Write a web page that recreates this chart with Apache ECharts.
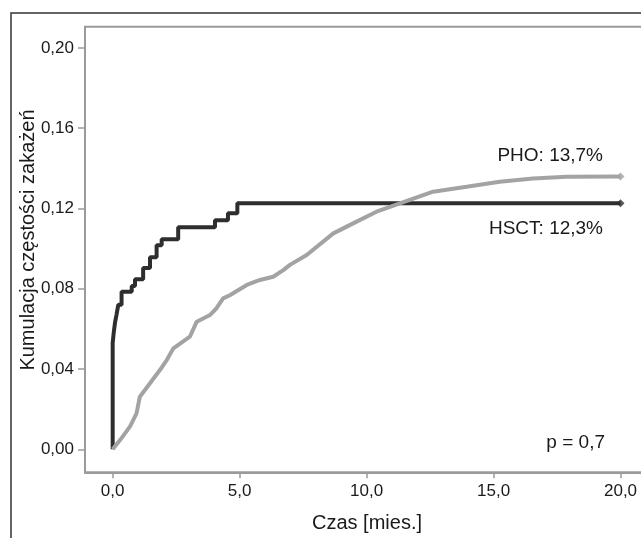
<!DOCTYPE html>
<html>
<head>
<meta charset="utf-8">
<script src="https://cdn.jsdelivr.net/npm/echarts@6/dist/echarts.min.js"></script>
<style>
html,body{margin:0;padding:0;background:#fff;}
#chart{width:641px;height:538px;}
</style>
</head>
<body>
<div id="chart"></div>
<script>
// ---- data ----
const hsctTime = [0, 0, 0.04, 0.09, 0.15, 0.22, 0.35, 0.75, 0.88, 1.2, 1.47, 1.73, 1.93, 2.58, 4.03, 4.54, 4.91, 20];
const hsctValue = [0, 0.053, 0.058, 0.063, 0.067, 0.072, 0.0785, 0.0814, 0.0848, 0.0903, 0.0957, 0.1017, 0.1047, 0.1107, 0.1141, 0.1176, 0.1226, 0.1226];
const phoTime = [0, 0.29, 0.68, 0.94, 1.07, 1.47, 1.86, 2.13, 2.39, 3.04, 3.31, 3.83, 4.09, 4.35, 4.63, 5.28, 5.8, 6.32, 6.72, 6.98, 7.64, 8.69, 9.47, 10.39, 11.31, 12.62, 13.94, 15.24, 16.55, 17.87, 20];
const phoValue = [0, 0.0046, 0.0113, 0.0179, 0.0262, 0.0329, 0.0395, 0.0445, 0.0503, 0.0561, 0.0636, 0.0669, 0.0703, 0.0752, 0.0769, 0.0819, 0.0844, 0.086, 0.0893, 0.0919, 0.0968, 0.1076, 0.1126, 0.1184, 0.1226, 0.1284, 0.1308, 0.1333, 0.135, 0.1358, 0.136];
const xTicks = [0, 5, 10, 15, 20];
const yTicks = [0, 0.04, 0.08, 0.12, 0.16, 0.20];
const xTitle = 'Czas [mies.]';
const yTitle = 'Kumulacja częstości zakażeń';
const phoLabel = 'PHO: 13,7%';
const hsctLabel = 'HSCT: 12,3%';
const pLabel = 'p = 0,7';

const zip = (a, b) => a.map((v, i) => [v, b[i]]);
const FONT = '"Liberation Sans", Arial, sans-serif';
const AX = '#9a9a9a';
const DARK = '#2e2e2e';
const GRAY = '#a3a3a3';

const chart = echarts.init(document.getElementById('chart'), null, {renderer: 'canvas'});
chart.setOption({
  animation: false,
  backgroundColor: '#fff',
  grid: {left: 85, top: 26.7, width: 599, height: 445.6, show: true, borderColor: AX, borderWidth: 2,
    backgroundColor: 'transparent', outerBoundsMode: 'none', containLabel: false},
  xAxis: {
    type: 'value', min: -1.09, max: 22.5,
    axisLine: {show: true, onZero: false, lineStyle: {color: AX, width: 2}},
    axisTick: {show: true, length: 6, customValues: xTicks, lineStyle: {color: AX, width: 1.5}},
    axisLabel: {customValues: xTicks, margin: 11, color: '#1a1a1a', fontSize: 17, fontFamily: FONT,
      formatter: v => v.toFixed(1).replace('.', ',')},
    splitLine: {show: false}
  },
  yAxis: {
    type: 'value', min: -0.01146, max: 0.2106,
    axisLine: {show: true, onZero: false, lineStyle: {color: AX, width: 2}},
    axisTick: {show: true, length: 7, customValues: yTicks, lineStyle: {color: AX, width: 1.5}},
    axisLabel: {customValues: yTicks, margin: 11, color: '#1a1a1a', fontSize: 17, fontFamily: FONT,
      formatter: v => v.toFixed(2).replace('.', ',')},
    splitLine: {show: false}
  },
  series: [
    {type: 'line', name: 'HSCT', step: 'end', data: zip(hsctTime, hsctValue), showSymbol: false,
      lineStyle: {color: DARK, width: 4}, z: 2},
    {type: 'line', name: 'PHO', data: zip(phoTime, phoValue), showSymbol: false,
      lineStyle: {color: GRAY, width: 4}, z: 3},
    {type: 'scatter', data: [[hsctTime[hsctTime.length - 1], hsctValue[hsctValue.length - 1]]],
      symbol: 'diamond', symbolSize: 8, itemStyle: {color: DARK}, z: 4},
    {type: 'scatter', data: [[phoTime[phoTime.length - 1], phoValue[phoValue.length - 1]]],
      symbol: 'diamond', symbolSize: 8, itemStyle: {color: GRAY}, z: 4}
  ],
  graphic: [
    {type: 'rect', silent: true, shape: {x: 11, y: 13, width: 700, height: 600},
      style: {fill: 'none', stroke: '#333', lineWidth: 1.5}, z: 0},
    {type: 'text', x: 28, y: 240, rotation: Math.PI / 2,
      style: {text: yTitle, font: '20px ' + FONT, fill: '#1a1a1a', textAlign: 'center', textVerticalAlign: 'middle'}},
    {type: 'text', x: 367, y: 523,
      style: {text: xTitle, font: '20px ' + FONT, fill: '#1a1a1a', textAlign: 'center', textVerticalAlign: 'middle'}},
    {type: 'text', x: 603, y: 156,
      style: {text: phoLabel, font: '19px ' + FONT, fill: '#1a1a1a', textAlign: 'right', textVerticalAlign: 'middle'}},
    {type: 'text', x: 603, y: 229,
      style: {text: hsctLabel, font: '19px ' + FONT, fill: '#1a1a1a', textAlign: 'right', textVerticalAlign: 'middle'}},
    {type: 'text', x: 605, y: 443,
      style: {text: pLabel, font: '19px ' + FONT, fill: '#1a1a1a', textAlign: 'right', textVerticalAlign: 'middle'}}
  ]
});
</script>
</body>
</html>
